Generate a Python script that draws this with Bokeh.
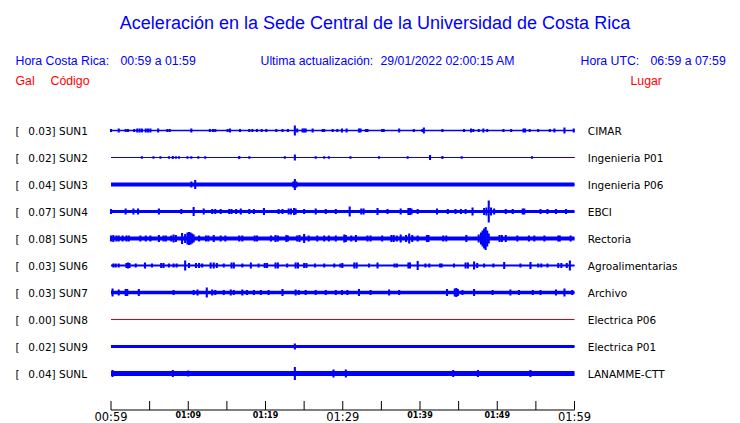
from bokeh.plotting import figure
from bokeh.models import Range1d, ColumnDataSource
from bokeh.core.properties import value
from bokeh.embed import file_html
from bokeh.resources import INLINE

# ---------------- data ----------------
codes = ["SUN1", "SUN2", "SUN3", "SUN4", "SUN5", "SUN6", "SUN7", "SUN8", "SUN9", "SUNL"]
peak_gal = [0.03, 0.02, 0.04, 0.07, 0.08, 0.03, 0.03, 0.00, 0.02, 0.04]
places = ["CIMAR", "Ingenieria P01", "Ingenieria P06", "EBCI", "Rectoria",
          "Agroalimentarias", "Archivo", "Electrica P06", "Electrica P01", "LANAMME-CTT"]
# background noise level of each trace (arbitrary amplitude units)
noise = [0.75, 0.6, 2.0, 1.5, 2.0, 1.0, 1.7, 0.0, 1.4, 2.6]

# minutes after 00:59 and amplitude of visible bursts, per station
sun1_t = [0.0, 1.0, 1.9, 2.2, 3.0, 3.4, 3.7, 4.0, 4.5, 4.8, 5.1, 6.1, 7.3, 7.6, 10.4, 12.8, 13.2, 13.5,
          15.1, 15.4, 16.7, 17.9, 18.3, 18.9, 19.5, 20.1, 21.4, 22.2, 22.9, 23.8, 24.1, 24.8, 25.0, 25.2,
          26.1, 27.4, 27.6, 28.7, 29.3, 29.9, 30.5, 32.1, 32.3, 33.0, 33.2, 35.1, 35.3, 37.3, 39.2, 40.3,
          40.5, 42.9, 45.7, 46.6, 46.9, 47.6, 48.2, 48.7, 50.8, 51.8, 53.4, 53.6, 54.2, 55.3, 56.8, 57.4,
          58.7, 59.9]
sun1_a = [1.5, 2, 1.5, 1.5, 1.5, 2, 2, 2, 2, 2, 2, 2, 1.5, 1.5, 2, 1.5, 1.5, 1.5,
          1.5, 2, 1.5, 1.5, 1.5, 1.5, 1.5, 1.5, 1.5, 1.5, 1.5, 5, 2, 2, 2, 2,
          2, 1.5, 1.5, 1.5, 1.5, 2, 2, 2, 2, 1.5, 1.5, 1.5, 1.5, 2, 1.5, 1.5,
          3, 1.5, 1.5, 2, 1.5, 1.5, 2, 1.5, 1.5, 1.5, 2, 2, 1.5, 1.5, 1.5, 2,
          3, 2]
sun2_t = [4.0, 5.5, 6.4, 7.5, 8.0, 8.4, 8.8, 9.9, 10.4, 11.3, 12.2, 16.6, 17.9, 22.5, 23.8, 26.5, 27.6,
          28.2, 31.0, 34.7, 38.4, 41.3, 42.9, 45.4, 54.5]
sun2_a = [1.2, 1.2, 1.2, 1.2, 1.5, 1.2, 1.2, 1.2, 1.2, 1.2, 1.2, 1.5, 1.2, 1.2, 3, 1.2, 1.2,
          1.2, 1.2, 1.2, 1.2, 2.5, 1.5, 1.2, 1.2]
sun3_t = [10.4, 10.9, 23.6, 23.8, 24.0]
sun3_a = [3, 4.5, 3, 5.5, 3]
sun4_t = [0.0, 1.9, 2.9, 3.5, 6.2, 9.1, 10.7, 12.0, 13.1, 13.5, 14.2, 15.3, 15.6, 16.2, 16.8, 17.9, 18.5,
          19.8, 21.7, 22.2, 23.0, 23.3, 23.7, 23.9, 25.0, 26.5, 27.8, 29.1, 30.9, 32.4, 32.7, 34.5, 35.8,
          37.5, 38.5, 38.7, 38.9, 39.7, 42.2, 43.6, 44.6, 45.3, 45.9, 46.8, 48.3, 48.6, 48.9, 49.2, 49.6,
          51.1, 52.0, 53.3, 53.5, 55.6, 56.5, 57.6, 58.9]
sun4_a = [2.5, 3, 3, 3, 3, 2.5, 4.5, 3, 2.5, 2.5, 2.5, 2.5, 2.5, 2.5, 3, 2.5, 2.5,
          3.5, 2.5, 2.5, 3, 3, 3.5, 3, 2.5, 3, 2.5, 2.5, 5, 3, 3, 3.5, 2.5,
          3, 3.5, 3.5, 3, 2.5, 3, 2.5, 2.5, 2.5, 2.5, 4, 3.5, 4, 11, 4, 3,
          2.5, 2.5, 3, 3, 2.5, 2.5, 2.5, 2.5]
sun5_t = [0.0, 0.3, 0.7, 1.0, 1.5, 2.0, 2.3, 3.8, 4.5, 5.1, 6.2, 6.8, 7.1, 7.8, 8.1, 8.4, 9.2, 9.6, 9.9,
          10.1, 10.3, 10.5, 10.7, 11.4, 12.3, 12.6, 13.3, 14.2, 14.8, 16.6, 17.0, 18.6, 18.9, 20.7, 21.3,
          21.6, 22.7, 22.9, 24.1, 24.4, 25.0, 25.6, 26.7, 27.6, 28.2, 29.1, 30.2, 30.4, 31.1, 31.7, 33.2,
          33.6, 35.1, 36.3, 36.6, 37.0, 37.5, 38.2, 38.6, 39.0, 39.7, 40.9, 41.1, 43.0, 43.4, 46.0, 47.6,
          47.9, 48.1, 48.3, 48.5, 48.7, 48.9, 50.3, 50.6, 51.1, 52.6, 54.1, 54.8, 56.1, 57.9, 58.1, 59.5]
sun5_a = [3, 3.5, 3, 3, 3, 3, 3, 3, 3, 3, 3.5, 3, 3, 3, 4, 3.5, 5.5, 4.5, 6,
          6.5, 6, 5, 4, 3, 3, 3, 3.5, 3, 3, 3, 3, 3, 3, 3, 3.5,
          3, 3.5, 3, 3, 3.5, 4.5, 3, 3, 3, 3, 3, 4, 3.5, 3, 3.5, 3,
          3, 3, 3.5, 3.5, 3, 4, 3.5, 5, 3.5, 3, 3.5, 3.5, 3, 3, 3.5, 4,
          6, 8, 10, 11.5, 8, 5, 3.5, 3.5, 3.5, 3, 3, 3, 3, 3, 3, 3]
sun6_t = [0.3, 0.6, 1.0, 2.0, 2.2, 2.4, 3.2, 4.4, 5.3, 6.5, 6.8, 7.5, 8.1, 8.5, 9.6, 10.1, 11.0, 11.4,
          11.8, 12.9, 13.3, 13.7, 14.6, 15.6, 15.9, 17.0, 18.1, 19.1, 19.9, 20.2, 21.3, 21.6, 22.8, 23.9,
          24.2, 25.0, 25.3, 26.4, 27.6, 28.9, 29.7, 29.95, 31.5, 31.8, 33.4, 34.5, 36.7, 37.0, 38.5, 38.7,
          39.7, 40.7, 41.2, 42.6, 42.8, 44.4, 45.9, 46.2, 47.0, 47.4, 48.3, 49.5, 50.9, 53.0, 54.3, 55.3,
          55.7, 56.5, 57.9, 58.3, 59.0, 59.4]
sun6_a = [2, 2, 2, 2.5, 3, 2.5, 2, 3, 2, 2.5, 2.5, 2, 2, 2, 5, 2.5, 2.5, 2.5,
          2, 3, 3, 2.5, 2, 3, 3, 2, 3, 2, 2.5, 2.5, 3, 3, 2, 3,
          3, 2.5, 2.5, 2, 2, 2, 2, 2.5, 3, 3, 2, 3, 2, 2, 3, 3,
          4.5, 2, 2, 2, 2, 2, 3, 3, 4, 2.5, 2, 2, 3.5, 2, 3.5, 2,
          2, 2, 2.5, 2.5, 2.5, 5]
sun7_t = [0.2, 1.0, 1.9, 2.1, 3.6, 8.1, 10.7, 11.2, 12.4, 13.1, 13.5, 14.6, 15.5, 15.9, 17.0, 17.6, 18.5,
          19.4, 20.4, 22.2, 23.9, 24.3, 25.2, 26.5, 27.8, 29.1, 29.9, 30.6, 32.1, 33.6, 36.0, 37.3, 43.5,
          44.5, 44.7, 44.9, 45.5, 47.0, 49.4, 51.7, 52.8, 54.6, 55.6, 57.6, 58.7, 59.7]
sun7_a = [4, 3, 3.5, 3.5, 3.5, 2.5, 2.5, 3, 5, 3, 2.5, 2.5, 3, 2.5, 3, 2.5, 2.5,
          2.5, 2.5, 3.5, 3, 2.5, 2.5, 2.5, 2.5, 2.5, 2.5, 2.5, 3.5, 2.5, 3, 2.5, 3.5,
          4, 4.5, 3.5, 2.5, 3.5, 2.5, 3, 2.5, 2.5, 2.5, 3, 4, 2.5]
sun8_t = []
sun8_a = []
sun9_t = [23.8]
sun9_a = [3]
sunl_t = [0.2, 8.0, 10.0, 23.8, 28.8, 30.4, 44.3, 47.5, 54.3]
sunl_a = [3.5, 3.5, 3, 6.5, 4, 4, 3.5, 3.5, 3.5]

event_t = [sun1_t, sun2_t, sun3_t, sun4_t, sun5_t, sun6_t, sun7_t, sun8_t, sun9_t, sunl_t]
event_a = [sun1_a, sun2_a, sun3_a, sun4_a, sun5_a, sun6_a, sun7_a, sun8_a, sun9_a, sunl_a]

tick_minutes = [0, 5, 10, 15, 20, 25, 30, 35, 40, 45, 50, 55, 60]
label_minutes = [0, 10, 20, 30, 40, 50, 60]
label_texts = ["00:59", "01:09", "01:19", "01:29", "01:39", "01:49", "01:59"]
label_major = [True, False, False, True, False, False, True]

# ---------------- layout ----------------
W, H = 740, 423
X0_PX, X1_PX = 110.5, 574.0          # canvas px of the first and last minute
SPAN = 60.0
SC = (X1_PX - X0_PX) / SPAN


def px(xp):
    return (xp - X0_PX) / SC


Y0, DY = 130.0, 27.0
BLUE = "#0000ff"
RED = "#ff0000"
trace_colors = [BLUE] * 10
trace_colors[7] = "#e00000"

p = figure(width=W, height=H, output_backend="svg", toolbar_location=None,
           x_range=Range1d(px(0), px(W)), y_range=Range1d(H, 0),
           x_axis_type=None, y_axis_type=None, min_border=0,
           min_border_left=0, min_border_right=0, min_border_top=0, min_border_bottom=0)
p.outline_line_color = None
p.grid.visible = False
p.background_fill_color = "white"
p.border_fill_color = "white"

ys = [Y0 + DY * i for i in range(len(codes))]

# baseline + noise band
p.segment(x0=[0] * 10, x1=[SPAN] * 10, y0=ys, y1=ys, line_color=trace_colors, line_width=1)
p.quad(left=[0] * 10, right=[SPAN] * 10,
       top=[y - n for y, n in zip(ys, noise)], bottom=[y + n for y, n in zip(ys, noise)],
       fill_color=trace_colors, line_color=None)

# bursts
ex, etop, ebot, ecol = [], [], [], []
for i, (ts, amps) in enumerate(zip(event_t, event_a)):
    for t, a in zip(ts, amps):
        ex.append(t)
        etop.append(ys[i] - a)
        ebot.append(ys[i] + a)
        ecol.append(trace_colors[i])
src = ColumnDataSource(dict(x=ex, top=etop, bottom=ebot, c=ecol))
p.vbar(x="x", width=0.27, top="top", bottom="bottom", fill_color="c", line_color=None, source=src)

# station labels
LAB_FONT = value("DejaVu Sans")
lab_y = [y + 0.3 for y in ys]
p.text(x=[px(15)] * 10, y=lab_y, text=["["] * 10, text_font=LAB_FONT,
       text_font_size="10.5px", text_color="black", text_baseline="middle", text_align="left")
p.text(x=[px(27.7)] * 10, y=lab_y,
       text=[f"{g:.2f}] {c}" for g, c in zip(peak_gal, codes)], text_font=LAB_FONT,
       text_font_size="10.5px", text_color="black", text_baseline="middle", text_align="left")
p.text(x=[px(587.3)] * 10, y=lab_y, text=places, text_font=LAB_FONT,
       text_font_size="10.5px", text_color="black", text_baseline="middle", text_align="left")

# header
HF = value("Liberation Sans")
p.text(x=[px(374.5)], y=[22.6], text=["Aceleración en la Sede Central de la Universidad de Costa Rica"],
       text_font=HF, text_font_size="18px", text_color=BLUE, text_align="center",
       text_baseline="middle")
p.text(x=[px(15), px(120), px(260), px(380), px(580), px(650)], y=[60.9] * 6,
       text=["Hora Costa Rica:", "00:59 a 01:59", "Ultima actualización:", "29/01/2022 02:00:15 AM",
             "Hora UTC:", "06:59 a 07:59"],
       text_font=HF, text_font_size="12.3px", text_color=BLUE, text_align="left",
       text_baseline="middle")
p.text(x=[px(15), px(50), px(630)], y=[80.9] * 3, text=["Gal", "Código", "Lugar"],
       text_font=HF, text_font_size="12.3px", text_color=RED, text_align="left",
       text_baseline="middle")

# time axis
AX_Y = 409.5
p.segment(x0=[0], x1=[SPAN], y0=[AX_Y], y1=[AX_Y], line_color="black", line_width=1)
p.segment(x0=tick_minutes, x1=tick_minutes, y0=[AX_Y] * len(tick_minutes),
          y1=[AX_Y - 9] * len(tick_minutes), line_color="black", line_width=1)
big = [(m, t) for m, t, b in zip(label_minutes, label_texts, label_major) if b]
small = [(m, t) for m, t, b in zip(label_minutes, label_texts, label_major) if not b]
p.text(x=[m for m, _ in big], y=[416.0] * len(big), text=[t for _, t in big], text_font=LAB_FONT,
       text_font_size="11.5px", text_color="black", text_align="center", text_baseline="middle")
p.text(x=[m for m, _ in small], y=[414.9] * len(small), text=[t for _, t in small], text_font=LAB_FONT,
       text_font_size="8px", text_font_style="bold", text_color="black", text_align="center",
       text_baseline="middle")

open("out.html", "w").write(file_html(p, INLINE))
